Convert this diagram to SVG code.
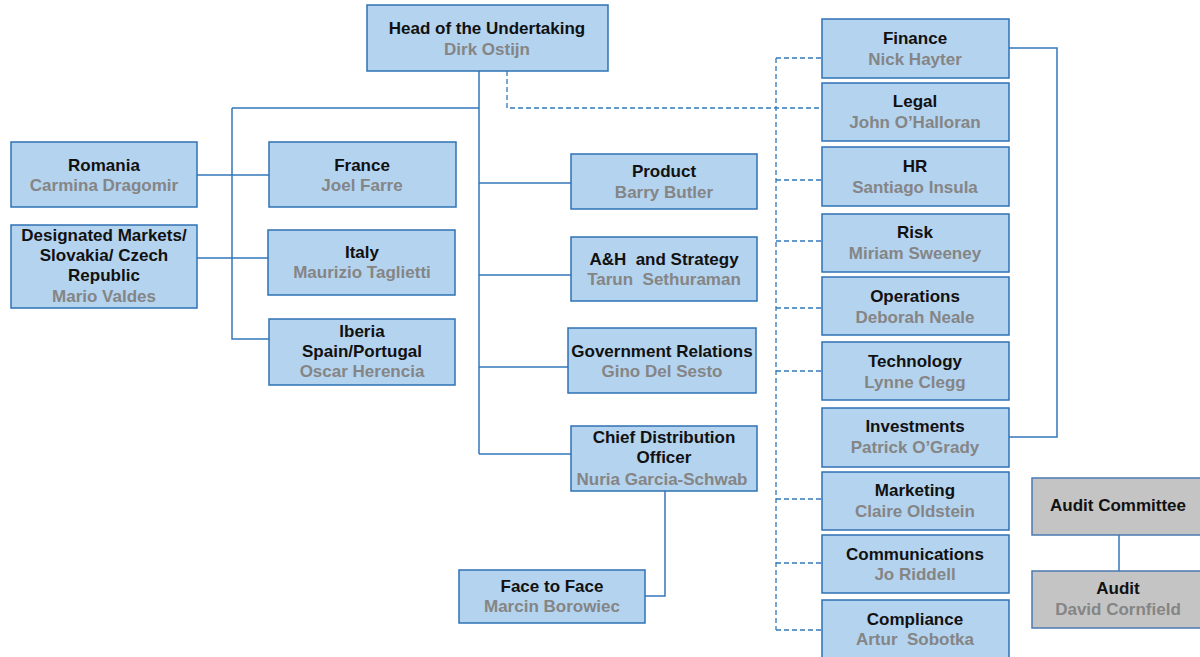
<svg xmlns="http://www.w3.org/2000/svg" width="1200" height="657" viewBox="0 0 1200 657">
<style>
.b{fill:#b4d3ef;stroke:#2f72b4;stroke-width:1.5}
.g{fill:#c4c4c4;stroke:#4a7ab0;stroke-width:1.5}
text{font-family:"Liberation Sans",Arial,sans-serif;font-weight:bold;font-size:17px;text-anchor:middle}
.t{fill:#111111}
.n{fill:#858585}
.p{white-space:pre}
.c{fill:none;stroke:#3478ba;stroke-width:1.5}
.d{fill:none;stroke:#3478ba;stroke-width:1.3;stroke-dasharray:5,3}
</style>
<rect width="1200" height="657" fill="#ffffff"/>
<g id="connectors">
<path class="c" d="M479,71 V454 M232,108 H479 M232,108 V339 H269 M197,175 H269 M197,258 H268 M479,183 H571 M479,275 H571 M479,367 H568 M479,454 H571 M665,491 V596 H645 M1009,48 H1057 V437 H1009 M1119,535 V571"/>
<path class="d" d="M507,71 V108 H822 M776,58 H822 M776,58 V630 M776,180 H822 M776,241 H822 M776,308 H822 M776,371 H822 M776,499 H822 M776,563 H822 M776,630 H822"/>
</g>
<g id="head"><rect class="b" x="367" y="5" width="241" height="66"/><text class="t" x="487" y="34">Head of the Undertaking</text><text class="n" x="487" y="55">Dirk Ostijn</text></g>
<g id="romania"><rect class="b" x="11" y="142" width="186" height="65"/><text class="t" x="104" y="171">Romania</text><text class="n" x="104" y="191">Carmina Dragomir</text></g>
<g id="designated"><rect class="b" x="11" y="225" width="186" height="83"/><text class="t" x="104" y="241">Designated Markets/</text><text class="t" x="104" y="261">Slovakia/ Czech</text><text class="t" x="104" y="281">Republic</text><text class="n" x="104" y="302">Mario Valdes</text></g>
<g id="france"><rect class="b" x="269" y="142" width="187" height="65"/><text class="t" x="362" y="171">France</text><text class="n" x="362" y="191">Joel Farre</text></g>
<g id="italy"><rect class="b" x="268" y="230" width="187" height="65"/><text class="t" x="362" y="258">Italy</text><text class="n" x="362" y="278">Maurizio Taglietti</text></g>
<g id="iberia"><rect class="b" x="269" y="319" width="186" height="66"/><text class="t" x="362" y="337">Iberia</text><text class="t" x="362" y="357">Spain/Portugal</text><text class="n" x="362" y="377">Oscar Herencia</text></g>
<g id="product"><rect class="b" x="571" y="154" width="186" height="55"/><text class="t" x="664" y="177">Product</text><text class="n" x="664" y="198">Barry Butler</text></g>
<g id="ah"><rect class="b" x="571" y="237" width="186" height="64"/><text class="t p" x="664" y="265">A&amp;H  and Strategy</text><text class="n p" x="664" y="285">Tarun  Sethuraman</text></g>
<g id="gov"><rect class="b" x="568" y="328" width="188" height="65"/><text class="t" x="662" y="357">Government Relations</text><text class="n" x="662" y="377">Gino Del Sesto</text></g>
<g id="cdo"><rect class="b" x="571" y="426" width="186" height="65"/><text class="t" x="664" y="443">Chief Distribution</text><text class="t" x="664" y="463">Officer</text><text class="n" x="662" y="485">Nuria Garcia-Schwab</text></g>
<g id="f2f"><rect class="b" x="459" y="570" width="186" height="53"/><text class="t" x="552" y="592">Face to Face</text><text class="n" x="552" y="612">Marcin Borowiec</text></g>
<g id="finance"><rect class="b" x="822" y="19" width="187" height="59"/><text class="t" x="915" y="44">Finance</text><text class="n" x="915" y="65">Nick Hayter</text></g>
<g id="legal"><rect class="b" x="822" y="83" width="187" height="58"/><text class="t" x="915" y="107">Legal</text><text class="n" x="915" y="128">John O’Halloran</text></g>
<g id="hr"><rect class="b" x="822" y="147" width="187" height="59"/><text class="t" x="915" y="172">HR</text><text class="n" x="915" y="193">Santiago Insula</text></g>
<g id="risk"><rect class="b" x="822" y="214" width="187" height="58"/><text class="t" x="915" y="238">Risk</text><text class="n" x="915" y="259">Miriam Sweeney</text></g>
<g id="operations"><rect class="b" x="822" y="277" width="187" height="58"/><text class="t" x="915" y="302">Operations</text><text class="n" x="915" y="323">Deborah Neale</text></g>
<g id="technology"><rect class="b" x="822" y="342" width="187" height="58"/><text class="t" x="915" y="367">Technology</text><text class="n" x="915" y="388">Lynne Clegg</text></g>
<g id="investments"><rect class="b" x="822" y="408" width="187" height="59"/><text class="t" x="915" y="432">Investments</text><text class="n" x="915" y="453">Patrick O’Grady</text></g>
<g id="marketing"><rect class="b" x="822" y="472" width="187" height="58"/><text class="t" x="915" y="496">Marketing</text><text class="n" x="915" y="517">Claire Oldstein</text></g>
<g id="communications"><rect class="b" x="822" y="535" width="187" height="58"/><text class="t" x="915" y="560">Communications</text><text class="n" x="915" y="580">Jo Riddell</text></g>
<g id="compliance"><rect class="b" x="822" y="600" width="187" height="62"/><text class="t" x="915" y="625">Compliance</text><text class="n p" x="915" y="645">Artur  Sobotka</text></g>
<g id="auditcommittee"><rect class="g" x="1032" y="478" width="175" height="57"/><text class="t" x="1118" y="511">Audit Committee</text></g>
<g id="audit"><rect class="g" x="1032" y="571" width="175" height="57"/><text class="t" x="1118" y="594">Audit</text><text class="n" x="1118" y="615">David Cornfield</text></g>
</svg>
